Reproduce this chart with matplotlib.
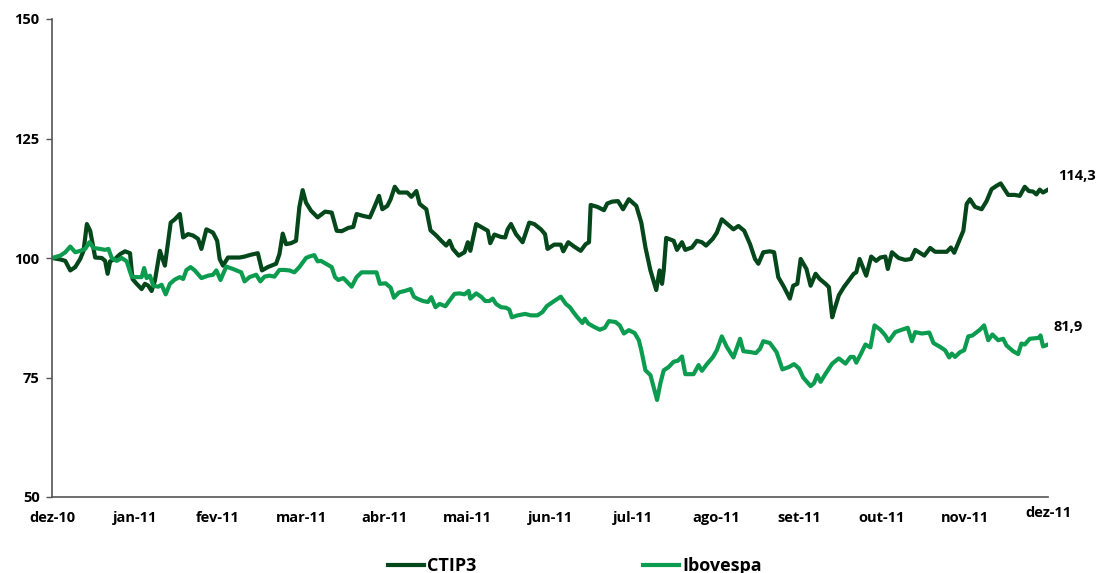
# CTIP3 vs Ibovespa, base 100 (dez-10 a dez-11)

import matplotlib
matplotlib.use('Agg')
import matplotlib.pyplot as plt
from matplotlib.transforms import ScaledTranslation

months = ['dez-10', 'jan-11', 'fev-11', 'mar-11', 'abr-11', 'mai-11', 'jun-11',
          'jul-11', 'ago-11', 'set-11', 'out-11', 'nov-11', 'dez-11']

# position in months since dez-10
ctip_month = [0.00, 0.10, 0.16, 0.22, 0.28, 0.34, 0.38, 0.42, 0.46, 0.52, 0.60, 0.64, 0.67, 0.70, 0.76,
              0.82, 0.88, 0.94, 0.97, 1.02, 1.08, 1.12, 1.16, 1.20, 1.24, 1.30, 1.36, 1.43, 1.48, 1.54,
              1.58, 1.64, 1.70, 1.76, 1.80, 1.86, 1.94, 1.99, 2.02, 2.06, 2.12, 2.18, 2.26, 2.32, 2.40,
              2.48, 2.53, 2.60, 2.70, 2.74, 2.78, 2.82, 2.88, 2.94, 2.98, 3.02, 3.06, 3.12, 3.20, 3.29,
              3.37, 3.43, 3.49, 3.57, 3.63, 3.67, 3.75, 3.83, 3.89, 3.94, 3.98, 4.04, 4.08, 4.13, 4.18,
              4.28, 4.33, 4.39, 4.43, 4.51, 4.56, 4.63, 4.69, 4.75, 4.79, 4.83, 4.90, 4.97, 5.01, 5.04,
              5.11, 5.19, 5.25, 5.28, 5.33, 5.41, 5.46, 5.49, 5.53, 5.59, 5.67, 5.75, 5.81, 5.89, 5.94,
              5.97, 6.05, 6.13, 6.16, 6.22, 6.29, 6.37, 6.43, 6.47, 6.49, 6.57, 6.65, 6.69, 6.75, 6.82,
              6.88, 6.95, 7.04, 7.10, 7.15, 7.21, 7.28, 7.32, 7.35, 7.37, 7.40, 7.49, 7.53, 7.59, 7.63,
              7.71, 7.77, 7.83, 7.88, 7.96, 8.01, 8.07, 8.13, 8.21, 8.27, 8.34, 8.41, 8.47, 8.51, 8.57,
              8.65, 8.70, 8.75, 8.82, 8.89, 8.93, 8.98, 9.02, 9.09, 9.14, 9.20, 9.25, 9.32, 9.36, 9.40,
              9.43, 9.48, 9.54, 9.60, 9.66, 9.69, 9.73, 9.81, 9.87, 9.93, 9.98, 10.04, 10.07, 10.12, 10.20,
              10.28, 10.35, 10.40, 10.51, 10.58, 10.64, 10.78, 10.83, 10.87, 10.93, 10.98, 11.02, 11.06,
              11.12, 11.20, 11.26, 11.32, 11.38, 11.43, 11.52, 11.60, 11.66, 11.72, 11.77, 11.82, 11.86,
              11.90, 11.94, 12.00]
ctip_value = [100.0, 99.7, 99.4, 97.4, 98.1, 99.8, 101.5, 107.1, 105.7, 100.1, 100.0, 99.4, 96.7, 99.3, 99.8,
              100.8, 101.4, 101.0, 95.6, 94.6, 93.5, 94.6, 94.2, 93.1, 95.3, 101.5, 98.4, 107.4, 108.1, 109.2,
              104.3, 105.0, 104.7, 104.0, 101.9, 106.0, 105.3, 103.6, 99.8, 98.4, 100.1, 100.1, 100.1, 100.3, 100.7,
              101.0, 97.4, 98.1, 98.8, 100.8, 105.1, 102.9, 103.1, 103.6, 110.6, 114.2, 111.6, 109.9, 108.5, 109.7,
              109.5, 105.7, 105.6, 106.3, 106.5, 109.2, 108.8, 108.5, 110.9, 113.0, 110.2, 110.9, 112.3, 114.9, 113.7,
              113.7, 112.8, 114.0, 111.3, 110.2, 105.8, 104.7, 103.6, 102.6, 103.6, 101.9, 100.5, 101.2, 103.3, 101.5,
              107.1, 106.3, 105.7, 103.1, 104.9, 104.4, 104.3, 106.0, 107.1, 105.0, 103.3, 107.4, 107.1, 106.0, 105.0,
              101.9, 102.8, 102.8, 101.4, 103.3, 102.4, 101.5, 102.9, 103.3, 111.1, 110.7, 110.0, 111.4, 111.8, 111.9,
              110.2, 112.3, 110.9, 107.4, 102.2, 97.4, 93.3, 97.4, 94.6, 97.4, 104.2, 103.6, 101.7, 103.3, 101.7,
              102.2, 103.6, 103.3, 102.6, 104.0, 105.3, 108.1, 107.2, 106.0, 106.7, 105.7, 102.9, 99.8, 98.8, 101.2,
              101.4, 101.2, 96.0, 93.9, 91.5, 94.2, 94.6, 99.8, 97.7, 94.2, 96.7, 95.6, 94.6, 93.9, 87.6,
              89.4, 92.2, 93.9, 95.3, 96.7, 97.0, 99.8, 96.3, 100.3, 99.4, 100.1, 100.3, 97.7, 101.2, 100.0,
              99.6, 99.8, 101.7, 100.5, 102.1, 101.3, 101.3, 102.2, 101.1, 103.6, 105.7, 111.3, 112.3,
              110.7, 110.2, 111.9, 114.4, 115.1, 115.6, 113.2, 113.2, 113.0, 114.9, 114.0, 113.9, 113.3,
              114.3, 113.7, 114.3]

ibov_month = [0.00, 0.10, 0.16, 0.22, 0.28, 0.34, 0.40, 0.45, 0.50, 0.58, 0.64, 0.68, 0.72, 0.78, 0.84,
              0.90, 0.96, 1.02, 1.08, 1.11, 1.14, 1.18, 1.22, 1.28, 1.32, 1.37, 1.42, 1.48, 1.54, 1.58,
              1.62, 1.67, 1.72, 1.80, 1.88, 1.94, 1.98, 2.03, 2.10, 2.18, 2.28, 2.32, 2.38, 2.46, 2.51,
              2.56, 2.62, 2.68, 2.74, 2.80, 2.86, 2.92, 2.98, 3.06, 3.10, 3.16, 3.20, 3.24, 3.30, 3.37,
              3.41, 3.45, 3.51, 3.55, 3.61, 3.67, 3.73, 3.83, 3.91, 3.95, 4.02, 4.08, 4.12, 4.18, 4.25,
              4.32, 4.36, 4.40, 4.47, 4.53, 4.57, 4.62, 4.67, 4.74, 4.79, 4.85, 4.91, 4.97, 5.02, 5.04,
              5.11, 5.17, 5.22, 5.27, 5.31, 5.35, 5.41, 5.47, 5.51, 5.54, 5.61, 5.70, 5.77, 5.85, 5.91,
              5.96, 6.05, 6.13, 6.19, 6.24, 6.28, 6.33, 6.39, 6.42, 6.46, 6.53, 6.60, 6.66, 6.71, 6.79,
              6.84, 6.89, 6.95, 7.02, 7.07, 7.10, 7.15, 7.21, 7.29, 7.33, 7.37, 7.43, 7.49, 7.54, 7.59,
              7.63, 7.73, 7.79, 7.83, 7.89, 7.96, 8.01, 8.07, 8.13, 8.21, 8.29, 8.33, 8.42, 8.48, 8.53,
              8.57, 8.65, 8.73, 8.80, 8.88, 8.94, 9.00, 9.05, 9.14, 9.18, 9.22, 9.26, 9.32, 9.40, 9.48,
              9.56, 9.62, 9.66, 9.69, 9.75, 9.80, 9.86, 9.91, 9.98, 10.04, 10.08, 10.16, 10.24, 10.31, 10.36,
              10.40, 10.48, 10.57, 10.62, 10.70, 10.76, 10.81, 10.84, 10.88, 10.94, 10.99, 11.04, 11.09,
              11.18, 11.23, 11.28, 11.33, 11.40, 11.46, 11.50, 11.58, 11.64, 11.68, 11.72, 11.78, 11.89,
              11.91, 11.94, 12.00]
ibov_value = [100.0, 100.5, 101.2, 102.4, 101.2, 101.5, 101.9, 103.3, 102.1, 101.9, 101.7, 101.9, 100.0, 99.4, 100.0,
              99.3, 96.1, 96.0, 96.0, 97.9, 95.8, 96.3, 94.2, 94.0, 94.4, 92.4, 94.6, 95.5, 96.0, 95.6,
              97.5, 98.1, 97.4, 95.8, 96.3, 96.5, 97.4, 95.4, 98.2, 97.7, 97.0, 95.1, 96.0, 96.5, 95.1,
              96.1, 96.3, 96.1, 97.5, 97.5, 97.4, 97.0, 98.1, 100.0, 100.3, 100.6, 99.3, 99.4, 98.8, 98.1,
              96.0, 95.4, 95.8, 95.1, 94.0, 96.0, 97.0, 97.0, 97.0, 94.6, 94.7, 93.8, 91.7, 92.8, 93.1,
              93.5, 91.9, 91.5, 91.0, 90.8, 91.8, 89.7, 90.4, 89.9, 91.1, 92.5, 92.6, 92.4, 93.1, 91.5,
              92.6, 91.9, 91.0, 91.0, 91.5, 90.4, 89.7, 89.6, 89.2, 87.6, 88.0, 88.3, 88.0, 88.0, 88.7,
              89.9, 91.0, 91.9, 90.4, 89.7, 88.7, 87.6, 86.4, 87.3, 86.3, 85.6, 85.0, 85.4, 86.8, 86.6,
              85.9, 84.2, 84.9, 84.3, 82.8, 80.7, 76.5, 75.5, 70.3, 73.8, 76.5, 77.2, 78.3, 78.5, 79.4,
              75.7, 75.7, 77.6, 76.4, 77.8, 79.2, 80.7, 83.6, 81.4, 79.2, 83.1, 80.5, 80.3, 80.1, 81.0,
              82.6, 82.2, 80.3, 76.7, 77.2, 77.8, 76.9, 75.0, 73.2, 73.8, 75.5, 74.1, 75.8, 77.9, 79.0,
              77.9, 79.3, 79.3, 78.1, 80.1, 81.9, 81.3, 85.9, 85.0, 83.8, 82.6, 84.5, 85.0, 85.4, 82.6,
              84.5, 84.2, 84.4, 82.2, 81.4, 80.7, 79.2, 80.0, 79.3, 80.3, 80.7, 83.6, 83.8,
              85.0, 85.9, 82.8, 84.0, 82.8, 83.1, 81.7, 80.5, 79.9, 82.1, 81.9, 83.1, 83.3,
              83.8, 81.5, 81.9]

DARK = '#03471b'
LIGHT = '#0c9c50'

plt.rcParams['font.family'] = ['Open Sans', 'DejaVu Sans']
plt.rcParams['font.weight'] = 'bold'

fig = plt.figure(figsize=(11.04, 5.73), dpi=100)
ax = fig.add_axes([52 / 1104, 1 - 497 / 573, 996 / 1104, 478 / 573])

ax.plot(ctip_month, ctip_value, color=DARK, lw=3, label='CTIP3', solid_joinstyle='round')
ax.plot(ibov_month, ibov_value, color=LIGHT, lw=3, label='Ibovespa', solid_joinstyle='round')

ax.set_xlim(0, 12)
ax.set_ylim(50, 150)
ax.set_yticks([50, 75, 100, 125, 150])
ax.set_xticks(range(len(months)))
ax.set_xticklabels(months)

for s in ['top', 'right']:
    ax.spines[s].set_visible(False)
for s in ['left', 'bottom']:
    ax.spines[s].set_color('#555555')
    ax.spines[s].set_linewidth(1.2)

ax.tick_params(axis='y', length=4, width=1, color='#555555', pad=5, labelsize=10.5)
ax.tick_params(axis='x', length=0, pad=10, labelsize=10.5)

# Excel draws the last month label a bit higher
last = ax.get_xticklabels()[-1]
last.set_transform(last.get_transform() + ScaledTranslation(0, 5 / 100, fig.dpi_scale_trans))

ax.annotate('114,3', xy=(12, ctip_value[-1]), xytext=(10, 14), textcoords='offset pixels',
            ha='left', va='center', fontsize=10.5, fontweight='bold')
ax.annotate('81,9', xy=(12, ibov_value[-1]), xytext=(6, 18), textcoords='offset pixels',
            ha='left', va='center', fontsize=10.5, fontweight='bold')

fig.legend(loc='center', bbox_to_anchor=(575 / 1104, 1 - 566 / 573), ncol=2, frameon=False,
           handlelength=2.0, handletextpad=0.18, columnspacing=9.2, fontsize=13)

fig.savefig('out.png', dpi=100)
